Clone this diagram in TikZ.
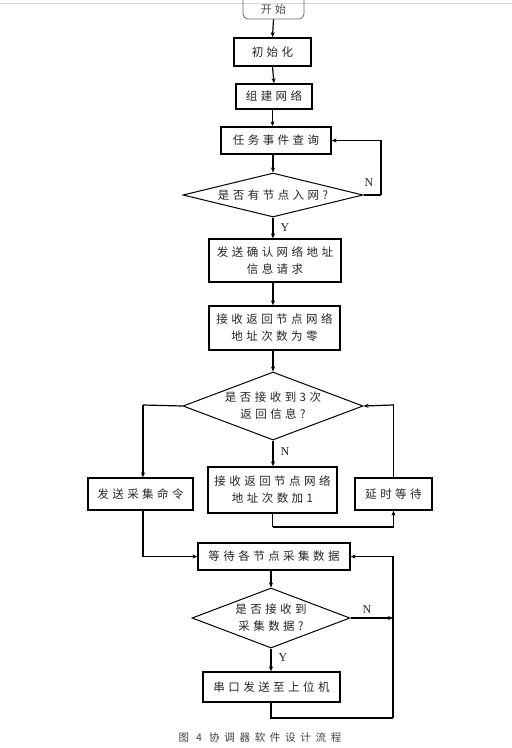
\documentclass[tikz,border=0pt]{standalone}
\usepackage{fontspec}
\setmainfont{Liberation Serif}
\newfontfamily\cjk[LetterSpace=30]{Noto Sans CJK SC}
\newfontfamily\cjkcap[LetterSpace=45]{Noto Sans CJK SC}
\usetikzlibrary{shapes.geometric,arrows.meta}
\tikzset{
  box/.style={draw=black, line width=1.3pt, rectangle, inner sep=0pt, align=center, font=\cjk\fontsize{11.5}{17}\selectfont, text=black!85},
  dia/.style={draw=black, line width=1pt, diamond, inner sep=0pt},
  dtext/.style={align=center, font=\cjk\fontsize{11.5}{17}\selectfont, text=black!85},
  conn/.style={line width=1.2pt, -{Stealth[length=5pt,width=4pt]}},
  line/.style={line width=1.2pt},
  yn/.style={font=\fontsize{12}{13}\selectfont, text=black!85},
}
\begin{document}
\begin{tikzpicture}[x=1pt,y=-1pt]
\useasboundingbox (0,0) rectangle (512,748);
\fill[white] (0,0) rectangle (512,748);
\draw[black!15, line width=0.6pt] (0,3) -- (512,3);
% nodes
\node[draw=black!60, line width=0.8pt, rounded corners=5pt, minimum width=61, minimum height=30, inner sep=0pt] (start) at (273.5,4) {};
\node[font=\cjk\fontsize{11}{12}\selectfont, text=black!70, inner sep=0pt] (startt) at (273.5,9) {开始};
\node[box, line width=1.6pt, minimum width=77, minimum height=28] (init) at (272.5,52) {初始化};
\node[box, minimum width=76, minimum height=25] (build) at (274,96.5) {组建网络};
\node[box, minimum width=110, minimum height=27] (query) at (276,140.5) {任务事件查询};
\node[dia, minimum width=180, minimum height=44] (d1) at (273,195) {};
\node[dtext] (d1t) at (273,195) {是否有节点入网?};
\node[box, minimum width=132, minimum height=43] (send1) at (275,260.5) {发送确认网络地址\\信息请求};
\node[box, minimum width=131, minimum height=44] (recv0) at (274.5,328) {接收返回节点网络\\地址次数为零};
\node[dia, minimum width=180, minimum height=68] (d2) at (273,406) {};
\node[dtext] (d2t) at (273,406) {是否接收到3次\\返回信息?};
\node[box, minimum width=105, minimum height=32] (cmd) at (140.5,494) {发送采集命令};
\node[box, minimum width=129, minimum height=46] (recv1) at (272.5,490) {接收返回节点网络\\地址次数加1};
\node[box, minimum width=77, minimum height=32] (delay) at (393.5,494) {延时等待};
\node[box, minimum width=152, minimum height=27] (wait) at (274,556.5) {等待各节点采集数据};
\node[dia, minimum width=158, minimum height=60] (d3) at (271,618) {};
\node[dtext] (d3t) at (271,618) {是否接收到\\采集数据?};
\node[box, minimum width=137, minimum height=30] (serial) at (271.5,687) {串口发送至上位机};
\node[font=\cjkcap\fontsize{10.5}{12}\selectfont, text=black!75] (cap) at (260,738) {图 4 协调器软件设计流程};
% coordinates
\coordinate (c1) at (381,195);
\coordinate (c2) at (393,405);
\coordinate (c3) at (393,618);
\coordinate (c4) at (393,718);
\coordinate (c5) at (143,405);
\coordinate (c6) at (272.5,527);
% connectors
\draw[conn] (start.south) -- (init.north);
\draw[conn] (init.south) -- (build.north);
\draw[conn] (build.south -| init.south) -- (query.north -| init.south);
\draw[conn] (query.south -| d1.north) -- (d1.north);
\draw[line] (d1.east) -- (c1);
\draw[conn] (c1) |- (query.east);
\node[yn] (n1) at (369,183) {N};
\draw[conn] (d1.south) -- (send1.north -| d1.south);
\node[yn] (y1) at (285,228) {Y};
\draw[conn] (send1.south -| d1.south) -- (recv0.north -| d1.south);
\draw[conn] (recv0.south -| d2.north) -- (d2.north);
\draw[line] (d2.west) -- (c5);
\draw[conn] (c5) -- (cmd.north -| c5);
\draw[conn] (d2.south) -- (recv1.north -| d2.south);
\node[yn] (n2) at (285,452) {N};
\draw[line] (recv1.south) -- (c6);
\draw[conn] (c6) -| (delay.south);
\draw[line] (delay.north) |- (c2);
\draw[conn] (c2) -- (d2.east);
\draw[conn] (cmd.south -| c5) |- (wait.west);
\draw[conn] (wait.south -| d3.north) -- (d3.north);
\draw[conn] (d3.east) -- (c3);
\node[yn] (n3) at (367,610) {N};
\draw[conn] (d3.south) -- (serial.north -| d3.south);
\node[yn] (y3) at (283,658) {Y};
\draw[line] (serial.south -| d3.south) |- (c4);
\draw[conn] (c4) |- (wait.east);
\end{tikzpicture}
\end{document}
